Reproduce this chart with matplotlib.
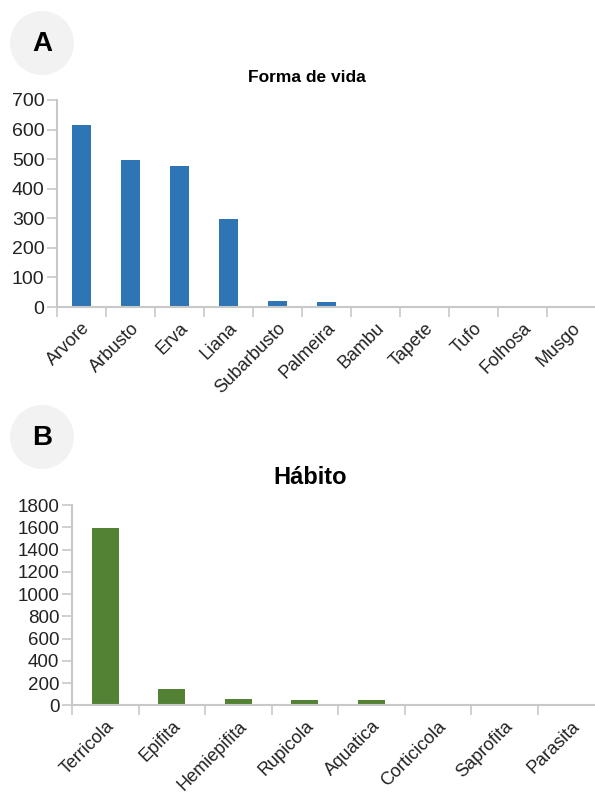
import matplotlib
matplotlib.use("Agg")
import matplotlib.pyplot as plt
from matplotlib.patches import Circle
import numpy as np

plt.rcParams['font.family'] = ['Liberation Sans', 'DejaVu Sans']

# Forma de vida
forma_labels = ["Arvore", "Arbusto", "Erva", "Liana", "Subarbusto", "Palmeira",
                "Bambu", "Tapete", "Tufo", "Folhosa", "Musgo"]
forma_counts = [615, 497, 476, 297, 21, 16, 3, 3, 3, 2, 2]

# Hábito
habito_labels = ["Terricola", "Epifita", "Hemiepifita", "Rupicola", "Aquatica",
                 "Corticicola", "Saprofita", "Parasita"]
habito_counts = [1595, 146, 54, 52, 45, 6, 6, 2]

W, H = 595, 795
AXIS_GREY = "#c8c8c8"
TEXT = "#222222"


def style_axes(ax, labels, ymax, ystep):
    n = len(labels)
    ax.set_xlim(-0.5, n - 0.5)
    ax.set_ylim(0, ymax)
    ax.set_yticks(np.arange(0, ymax + 1, ystep))
    # ticks between categories, labels at the category centres
    ax.set_xticks(np.arange(n) - 0.5)
    ax.set_xticklabels([])
    ax.set_xticks(np.arange(n), minor=True)
    ax.set_xticklabels(labels, minor=True, rotation=45, ha="right",
                       rotation_mode="anchor", fontsize=13, color=TEXT)
    ax.tick_params(axis="x", which="major", length=7, color=AXIS_GREY, width=1.2)
    ax.tick_params(axis="x", which="minor", length=0, pad=9)
    ax.tick_params(axis="y", length=7, color=AXIS_GREY, width=1.2,
                   labelsize=14, labelcolor=TEXT, pad=2)
    for side in ["top", "right"]:
        ax.spines[side].set_visible(False)
    for side in ["left", "bottom"]:
        ax.spines[side].set_color(AXIS_GREY)
        ax.spines[side].set_linewidth(1.5)


fig = plt.figure(figsize=(W / 100, H / 100), dpi=100)

# background layer in pixel coordinates for the panel badges
bg = fig.add_axes([0, 0, 1, 1], zorder=-1)
bg.set_xlim(0, W)
bg.set_ylim(H, 0)
bg.axis("off")
for cy, letter in [(43, "A"), (437, "B")]:
    bg.add_patch(Circle((42, cy), 32, color="#f2f2f2", lw=0))
    bg.text(42, cy + 1, letter, ha="center", va="center",
            fontsize=20, fontweight="bold", color="black")

# panel A
axA = fig.add_axes([57 / W, 1 - 307 / H, 539 / W, 207 / H])
x = np.arange(len(forma_labels))
axA.bar(x, forma_counts, width=0.4, color="#2e75b6", zorder=2)
style_axes(axA, forma_labels, 700, 100)
fig.text(307 / W, 1 - 77 / H, "Forma de vida", ha="center", va="center",
         fontsize=12.5, fontweight="bold", color="black")

# panel B
axB = fig.add_axes([72 / W, 1 - 705.3 / H, 532 / W, 200.3 / H])
x = np.arange(len(habito_labels))
axB.bar(x, habito_counts, width=0.4, color="#548235", zorder=2)
style_axes(axB, habito_labels, 1800, 200)
axB.tick_params(axis="y", labelsize=13.5)
fig.text(310 / W, 1 - 478 / H, "Hábito", ha="center", va="center",
         fontsize=17, fontweight="bold", color="black")

fig.savefig("out.png", dpi=100)
